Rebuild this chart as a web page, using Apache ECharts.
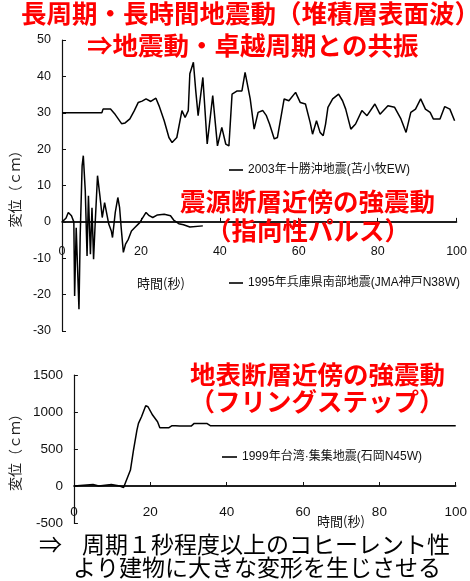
<!DOCTYPE html>
<html>
<head>
<meta charset="utf-8">
<script src="https://cdn.jsdelivr.net/npm/echarts@6/dist/echarts.min.js"></script>
<style>
  html, body { margin: 0; padding: 0; background: #fff; }
  #c { width: 470px; height: 581px; }
</style>
</head>
<body>
<div id="c"></div>
<script>
// 2003 Tokachi-oki, Tomakomai EW displacement (cm), drawn on a 30 cm baseline
const tokachiT = [0, 10.1, 10.4, 12.3, 13.5, 15.1, 16.0, 17.2, 18.3, 19.3, 20.3, 21.3, 22.5, 23.8, 24.6, 25.9, 27.1, 27.9, 29.1, 30.4, 31.2, 32.0, 32.4, 33.3, 33.9, 34.5, 35.7, 36.8, 38.2, 39.4, 40.5, 41.5, 42.3, 43.1, 44.4, 45.6, 46.4, 46.8, 47.7, 48.7, 49.7, 50.9, 51.8, 52.6, 53.8, 54.6, 56.3, 57.5, 59.2, 60.4, 61.7, 62.9, 63.5, 64.5, 65.4, 66.2, 66.8, 67.4, 68.6, 70.1, 71.1, 71.9, 73.2, 74.4, 76.0, 77.3, 79.3, 80.6, 82.6, 84.3, 85.9, 87.2, 88.4, 89.6, 90.9, 92.1, 93.3, 94.1, 95.8, 97.0, 98.3, 99.5];
const tokachiV = [30, 30, 31, 31, 29.5, 27, 27.2, 28.3, 30.5, 32.8, 33.2, 33.8, 33.1, 34, 31.9, 27.8, 23.2, 21.8, 23.2, 30.6, 28.7, 30.6, 40.7, 43.9, 36, 29.2, 39.7, 21.4, 34.7, 20.9, 26, 21.4, 20.9, 35.1, 36, 36, 41.1, 41.6, 33.8, 25.5, 30.1, 30.6, 29.2, 26.9, 22.8, 23.2, 33.8, 33.3, 35.6, 32.8, 32.4, 27.3, 24.1, 27.8, 24.6, 23.7, 26.9, 31.5, 33.8, 35.1, 33.3, 31, 25.5, 26.9, 30.6, 29.2, 32.4, 29.6, 31.9, 31.5, 28.3, 24.6, 30.1, 31, 33.8, 31, 30.1, 28.3, 28.3, 31.7, 31, 27.8];

// 1995 Hyogo-ken Nanbu, JMA Kobe N38W displacement (cm)
const kobeT = [0, 1.0, 1.6, 2.4, 3.0, 3.2, 3.6, 4.3, 4.6, 5.1, 5.4, 5.9, 6.35, 6.7, 7.2, 7.6, 8.0, 8.4, 9.0, 9.6, 10.2, 10.8, 11.3, 11.85, 12.5, 12.8, 13.5, 14.15, 14.6, 15.0, 15.55, 16.1, 16.8, 17.6, 18.4, 19.7, 20.2, 21.3, 22.1, 23.0, 24.2, 25.9, 27.5, 28.3, 29.6, 30.8, 32.4, 35.7];
const kobeV = [0, 1, 2.6, 1.7, 0, -20.4, -1.6, -24, -4.3, 15.4, 18.2, 8.5, -9.4, 7.2, -8.9, 3.9, -10.3, -0.6, 12.7, 7.2, 1.2, 5.3, 5.3, -0.6, -2.5, -4.3, 2.6, 6.7, 3.9, -1.6, -8.4, -6.1, -4.8, -2.5, -1.6, -0.2, 0.7, 2.6, 1.7, 1.2, 1.9, 2.1, 1.7, 0.5, -0.5, -0.8, -1.4, -1.1];

// 1999 Chi-Chi, Shigang N45W displacement (cm)
const chichiT = [0, 0.5, 5.0, 5.4, 6.5, 6.8, 9.8, 10.2, 12.0, 12.4, 13.0, 13.5, 14.8, 15.6, 16.5, 16.9, 17.7, 18.8, 19.4, 20.6, 21.9, 22.5, 24.8, 25.6, 26.1, 26.6, 27.7, 30.7, 31.5, 34.8, 35.8, 100];
const chichiV = [0, 20, 20, 0, 0, 20, 20, 0, 0, -25, -20, 0, 216, 486, 756, 846, 936, 1084, 1071, 959, 868, 787, 787, 814, 840, 814, 810, 810, 846, 846, 814, 814];

// axis ranges (seconds / cm)
const timeAxis = { min: 0, max: 100, step: 20 };
const topDisp = { min: -30, max: 50, step: 10 };
const bottomDisp = { min: -500, max: 1500, step: 500 };

const nameTokachi = '2003年十勝沖地震(苫小牧EW)';
const nameKobe = '1995年兵庫県南部地震(JMA神戸N38W)';
const nameChichi = '1999年台湾·集集地震(石岡N45W)';

const pairs = (t, v) => t.map((x, i) => [x, v[i]]);

const SANS = "'Liberation Sans', Arial, 'Noto Sans CJK JP', sans-serif";
const CJK = "'Noto Sans CJK JP', sans-serif";
const INK = '#111';

const GRID_TOP = { left: 62, top: 40, width: 405, height: 291 };
const GRID_BOTTOM = { left: 61, top: 375, width: 399, height: 148 };

// the time axis line sits on zero; its labels are pulled up from the grid
// bottom so that they hang just under that zero line
function zeroLabelMargin(g, r, gapBelowLine) {
  const below = g.height * (0 - r.min) / (r.max - r.min);
  return gapBelowLine - below;
}

function timeXAxis(gridIndex, margin, fontSize) {
  return {
    type: 'value', gridIndex,
    min: timeAxis.min, max: timeAxis.max, interval: timeAxis.step,
    axisLine: { show: true, onZero: true, lineStyle: { color: INK, width: 1.5 } },
    axisTick: { show: true, inside: true, length: 4, lineStyle: { color: INK } },
    axisLabel: { color: INK, fontFamily: SANS, fontSize, margin, formatter: v => String(v) },
    splitLine: { show: false }
  };
}

function dispYAxis(gridIndex, r, fontSize, gap) {
  return {
    type: 'value', gridIndex,
    min: r.min, max: r.max, interval: r.step,
    name: '変位（ｃｍ）', nameLocation: 'middle', nameRotate: 90, nameGap: gap,
    nameTextStyle: { color: '#222', fontFamily: CJK, fontSize: 14 },
    axisLine: { show: true, onZero: false, lineStyle: { color: INK, width: 1.2 } },
    axisTick: { show: true, inside: true, length: 4, lineStyle: { color: INK } },
    axisLabel: { color: INK, fontFamily: SANS, fontSize, margin: 11, formatter: v => String(v) },
    splitLine: { show: false }
  };
}

function legendAt(name, left, top, width) {
  return {
    data: [{ name, icon: 'rect' }],
    left, top, padding: 0,
    itemWidth: width, itemHeight: 1.6,
    textStyle: { color: INK, fontFamily: SANS, fontSize: 12, lineHeight: 14 }
  };
}

function trace(name, t, v, xi, yi) {
  return {
    name, type: 'line', xAxisIndex: xi, yAxisIndex: yi,
    data: pairs(t, v), showSymbol: false, symbol: 'none',
    lineStyle: { color: '#000', width: 1.5 }, itemStyle: { color: '#000' }
  };
}

// zero baseline across the full time range of a panel
function baseline(xi, yi) {
  return {
    type: 'line', xAxisIndex: xi, yAxisIndex: yi, silent: true, z: 1,
    data: [[timeAxis.min, 0], [timeAxis.max, 0]], showSymbol: false, symbol: 'none',
    lineStyle: { color: INK, width: 1.5 }, itemStyle: { color: INK }
  };
}

function label(text, x, y, font, fill, align) {
  return {
    type: 'text', x, y,
    style: { text, font, fill, align: align || 'left', textAlign: align || 'left', verticalAlign: 'middle', textVerticalAlign: 'middle' },
    z: 100
  };
}

const RED = '#ff0000';
const redFont = "bold 25.5px 'Noto Sans CJK JP', sans-serif";
const blackFont = "23px 'Noto Sans CJK JP', sans-serif";
const axisNameFont = "13px 'Noto Sans CJK JP', sans-serif";

const chart = echarts.init(document.getElementById('c'), null, { renderer: 'canvas' });
chart.setOption({
  animation: false,
  backgroundColor: '#fff',
  grid: [GRID_TOP, GRID_BOTTOM],
  xAxis: [
    timeXAxis(0, zeroLabelMargin(GRID_TOP, topDisp, 23), 12.5),
    timeXAxis(1, zeroLabelMargin(GRID_BOTTOM, bottomDisp, 20), 13.5)
  ],
  yAxis: [dispYAxis(0, topDisp, 12.5, 37), dispYAxis(1, bottomDisp, 13.5, 36)],
  legend: [
    legendAt(nameTokachi, 229, 163, 14),
    legendAt(nameKobe, 229, 276, 14),
    legendAt(nameChichi, 222, 450, 15)
  ],
  series: [
    baseline(0, 0),
    baseline(1, 1),
    trace(nameTokachi, tokachiT, tokachiV, 0, 0),
    trace(nameKobe, kobeT, kobeV, 0, 0),
    trace(nameChichi, chichiT, chichiV, 1, 1)
  ],
  graphic: [
    label('長周期・長時間地震動（堆積層表面波）', 21, 13, redFont, RED),
    label('⇒地震動・卓越周期との共振', 87, 45, redFont, RED),
    label('震源断層近傍の強震動', 180, 201, redFont, RED),
    label('（指向性パルス）', 308, 230, redFont, RED, 'center'),
    label('地表断層近傍の強震動', 190, 374, redFont, RED),
    label('（フリングステップ）', 317, 401, redFont, RED, 'center'),
    label('時間(秒)', 137, 283, axisNameFont, INK),
    label('時間(秒)', 317, 521, axisNameFont, INK),
    label('⇒', 39, 544, blackFont, '#000'),
    label('周期１秒程度以上のコヒーレント性', 82, 544, blackFont, '#000'),
    label('より建物に大きな変形を生じさせる', 73, 567, blackFont, '#000')
  ]
});
</script>
</body>
</html>
